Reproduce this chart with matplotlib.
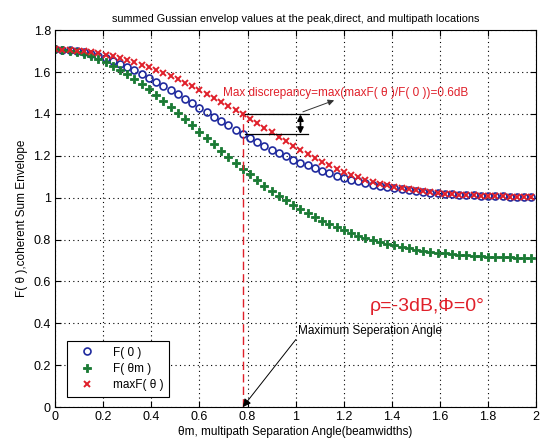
import numpy as np
import matplotlib
matplotlib.use("Agg")
import matplotlib.pyplot as plt

plt.rcParams['font.family'] = ['Liberation Sans', 'DejaVu Sans']

# multipath separation angle (beamwidths)
theta_m = [0.00, 0.03, 0.06, 0.09, 0.12, 0.15, 0.18, 0.21, 0.24, 0.27,
           0.30, 0.33, 0.36, 0.39, 0.42, 0.45, 0.48, 0.51, 0.54, 0.57,
           0.60, 0.63, 0.66, 0.69, 0.72, 0.75, 0.78, 0.81, 0.84, 0.87,
           0.90, 0.93, 0.96, 0.99, 1.02, 1.05, 1.08, 1.11, 1.14, 1.17,
           1.20, 1.23, 1.26, 1.29, 1.32, 1.35, 1.38, 1.41, 1.44, 1.47,
           1.50, 1.53, 1.56, 1.59, 1.62, 1.65, 1.68, 1.71, 1.74, 1.77,
           1.80, 1.83, 1.86, 1.89, 1.92, 1.95, 1.98]

F_0 = [1.708, 1.707, 1.704, 1.700, 1.694, 1.686, 1.677, 1.666, 1.654, 1.640,
       1.625, 1.609, 1.592, 1.573, 1.554, 1.535, 1.514, 1.494, 1.473, 1.451,
       1.430, 1.408, 1.387, 1.366, 1.345, 1.325, 1.305, 1.285, 1.266, 1.248,
       1.230, 1.213, 1.197, 1.182, 1.167, 1.154, 1.141, 1.128, 1.117, 1.106,
       1.096, 1.087, 1.078, 1.070, 1.063, 1.057, 1.051, 1.045, 1.040, 1.035,
       1.031, 1.028, 1.024, 1.021, 1.019, 1.016, 1.014, 1.012, 1.011, 1.009,
       1.008, 1.007, 1.006, 1.005, 1.004, 1.004, 1.003]

F_m = [1.708, 1.707, 1.703, 1.697, 1.688, 1.677, 1.664, 1.649, 1.631, 1.612,
       1.591, 1.568, 1.544, 1.518, 1.491, 1.463, 1.435, 1.405, 1.375, 1.345,
       1.315, 1.285, 1.255, 1.225, 1.195, 1.167, 1.138, 1.111, 1.084, 1.058,
       1.033, 1.010, 0.987, 0.965, 0.944, 0.925, 0.906, 0.889, 0.873, 0.858,
       0.844, 0.831, 0.819, 0.808, 0.797, 0.788, 0.779, 0.772, 0.764, 0.758,
       0.752, 0.747, 0.742, 0.738, 0.734, 0.731, 0.728, 0.725, 0.723, 0.721,
       0.719, 0.718, 0.716, 0.715, 0.714, 0.713, 0.712]

max_F = [1.708, 1.707, 1.706, 1.703, 1.700, 1.695, 1.689, 1.683, 1.675, 1.667,
         1.657, 1.647, 1.635, 1.623, 1.610, 1.596, 1.581, 1.566, 1.550, 1.533,
         1.515, 1.497, 1.478, 1.458, 1.439, 1.418, 1.398, 1.377, 1.355, 1.334,
         1.313, 1.291, 1.270, 1.249, 1.229, 1.209, 1.189, 1.171, 1.154, 1.138,
         1.123, 1.110, 1.098, 1.086, 1.076, 1.067, 1.059, 1.052, 1.046, 1.040,
         1.035, 1.031, 1.027, 1.023, 1.020, 1.018, 1.015, 1.013, 1.011, 1.010,
         1.008, 1.007, 1.006, 1.005, 1.004, 1.004, 1.003]

max_sep_angle = 0.78
discrepancy_dB = 0.6

fig = plt.figure(figsize=(5.4, 4.44), dpi=100)
ax = fig.add_axes([0.102, 0.083, 0.891, 0.849])

ax.plot(theta_m, F_0, 'o', color='#1f2a9e', mfc='none', ms=5, mew=1.2, label='F( 0 )')
ax.plot(theta_m, F_m, 'P', color='#1a7a34', ms=6, mew=0.6, label='F( θm )')
ax.plot(theta_m, max_F, 'x', color='#e0202a', ms=4, mew=1.4, label='maxF( θ )')

k = theta_m.index(max_sep_angle)
ax.plot([max_sep_angle, max_sep_angle], [0, max_F[k]], color='#e0202a', lw=1,
        linestyle=(0, (6, 3)))

# discrepancy marker
ax.plot([max_sep_angle + 0.01, 1.05], [max_F[k], max_F[k]], color='black', lw=0.9)
ax.plot([max_sep_angle + 0.01, 1.05], [F_0[k], F_0[k]], color='black', lw=0.9)
mid = (max_F[k] + F_0[k]) / 2
ax.annotate('', xy=(1.02, max_F[k]), xytext=(1.02, mid),
            arrowprops=dict(arrowstyle='-|>', color='black', lw=1.2, mutation_scale=9,
                            shrinkA=0, shrinkB=0))
ax.annotate('', xy=(1.02, F_0[k]), xytext=(1.02, mid),
            arrowprops=dict(arrowstyle='-|>', color='black', lw=1.2, mutation_scale=9,
                            shrinkA=0, shrinkB=0))
ax.annotate('', xy=(1.16, 1.465), xytext=(1.03, 1.41),
            arrowprops=dict(arrowstyle='-|>', color='#333333', lw=0.7, mutation_scale=9,
                            shrinkA=0, shrinkB=0))
ax.text(0.70, 1.50, 'Max discrepancy=max(maxF( θ )/F( 0 ))=%.1fdB' % discrepancy_dB,
        color='#e0202a', fontsize=8.5, va='center')

ax.annotate('Maximum Seperation Angle', xy=(max_sep_angle, 0), xytext=(1.01, 0.365),
            fontsize=8.5, va='center',
            arrowprops=dict(arrowstyle='-|>', color='black', lw=0.7, mutation_scale=12,
                            shrinkA=0, shrinkB=0, relpos=(0, 0)))

ax.text(1.31, 0.48, 'ρ=-3dB,Φ=0°', color='#e0202a', fontsize=14, va='center')

ax.set_xlim(0, 2)
ax.set_ylim(0, 1.8)
ax.set_xticks(np.arange(0, 2.01, 0.2))
ax.set_yticks(np.arange(0, 1.81, 0.2))
ax.set_xticklabels(['%g' % round(v, 1) for v in np.arange(0, 2.01, 0.2)])
ax.set_yticklabels(['%g' % round(v, 1) for v in np.arange(0, 1.81, 0.2)])
ax.tick_params(direction='in', length=4, width=0.8, labelsize=9,
               top=True, right=True, pad=3)
ax.grid(True, linestyle=(0, (1, 3)), color='black', lw=0.8)
for s in ax.spines.values():
    s.set_linewidth(0.8)

ax.set_title('summed Gussian envelop values at the peak,direct, and multipath locations',
             fontsize=7.8, pad=6)
ax.set_xlabel('θm, multipath Separation Angle(beamwidths)', fontsize=8.5, labelpad=2)
ax.set_ylabel('F( θ ),coherent Sum Envelope', fontsize=8.5, labelpad=4)

leg = ax.legend(loc='lower left', bbox_to_anchor=(0.012, 0.012), numpoints=1,
                fontsize=8.5, fancybox=False, edgecolor='black', framealpha=1,
                handletextpad=0.9, borderpad=0.5, labelspacing=0.35, handlelength=2.5)
leg.get_frame().set_linewidth(0.8)

fig.savefig('out.png', dpi=100)
